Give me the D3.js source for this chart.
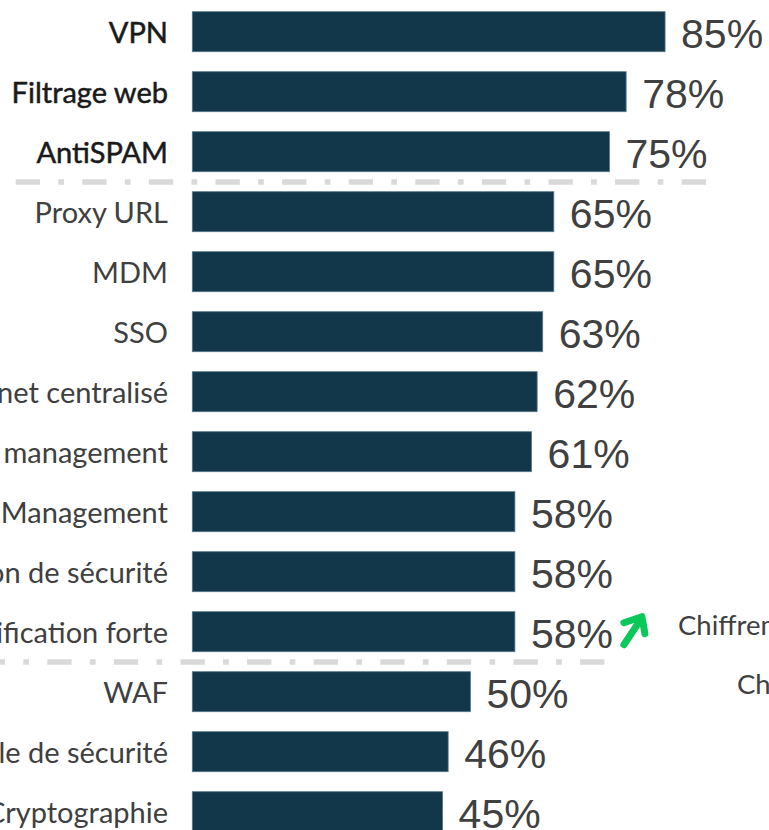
<!DOCTYPE html>
<html>
<head>
<meta charset="utf-8">
<script src="https://cdn.jsdelivr.net/npm/d3@7"></script>
<style>
  html, body { margin: 0; padding: 0; background: #ffffff; overflow: hidden; }
  svg { display: block; }
</style>
</head>
<body>
<div id="painting"></div>
<script>
// categories and values (top to bottom)
var categories = [
  "VPN", "Filtrage web", "AntiSPAM", "Proxy URL", "MDM", "SSO",
  "Antivirus Internet centralisé", "Patch management", "Identity Management",
  "Supervision de sécurité", "Authentification forte", "WAF",
  "Console de sécurité", "Cryptographie"
];
var values = [85, 78, 75, 65, 65, 63, 62, 61, 58, 58, 58, 50, 46, 45];
var highlighted = ["VPN", "Filtrage web", "AntiSPAM"];
// separators sit after these categories
var separators_after = ["AntiSPAM", "Authentification forte"];
var side_labels = ["Chiffrement", "Chiffrement"];

var w = 769, h = 830;
var bar_colour = "#12374b";

var svg = d3.select("#painting")
  .append("svg")
  .attr("width", w)
  .attr("height", h);

var xScale = d3.scaleLinear()
  .domain([0, 100])
  .range([192.3, 748.5]);

var yScale = d3.scaleBand()
  .domain(categories)
  .range([1.7, 841.7])
  .paddingInner(1 / 3)
  .paddingOuter(1 / 6);

// dashed separators
var sep_extent = [[15.7, 707], [-19.3, 605]];
svg.append("g")
  .attr("class", "lines")
  .selectAll("line")
  .data(separators_after)
  .enter()
  .append("line")
  .attr("x1", function(d, i) { return sep_extent[i][0]; })
  .attr("x2", function(d, i) { return sep_extent[i][1]; })
  .attr("y1", function(d) { return yScale(d) + yScale.bandwidth() + yScale.step() / 6 + 0.3; })
  .attr("y2", function(d) { return yScale(d) + yScale.bandwidth() + yScale.step() / 6 + 0.3; })
  .attr("stroke", "#d9d9d9")
  .attr("stroke-width", 5.5)
  .attr("stroke-dasharray", "24.3,18.3,5.7,18.3");

// bars
svg.append("g")
  .selectAll("rect")
  .data(categories)
  .enter()
  .append("rect")
  .attr("x", xScale(0))
  .attr("y", function(d) { return yScale(d); })
  .attr("width", function(d, i) { return xScale(values[i]) - xScale(0); })
  .attr("height", yScale.bandwidth())
  .attr("fill", bar_colour)
  .attr("stroke", "#56788a")
  .attr("stroke-width", 0.8);

// category labels
svg.append("g")
  .selectAll("text")
  .data(categories)
  .enter()
  .append("text")
  .attr("x", 168)
  .attr("y", function(d) {
    var hi = highlighted.indexOf(d) >= 0;
    return yScale(d) + yScale.bandwidth() / 2 + (hi ? 11.5 : 11);
  })
  .attr("text-anchor", "end")
  .attr("font-family", "Lato, sans-serif")
  .attr("font-size", function(d) { return highlighted.indexOf(d) >= 0 ? "29px" : "29px"; })
  .attr("fill", function(d) { return highlighted.indexOf(d) >= 0 ? "#1a1a1a" : "#404040"; })
  .attr("stroke", function(d) { return highlighted.indexOf(d) >= 0 ? "#1a1a1a" : "none"; })
  .attr("stroke-width", 0.5)
  .text(function(d) { return d; });

// value labels
svg.append("g")
  .selectAll("text")
  .data(categories)
  .enter()
  .append("text")
  .attr("x", function(d, i) { return xScale(values[i]) + 16; })
  .attr("y", function(d) { return yScale(d) + yScale.bandwidth() / 2 + 16.5; })
  .attr("font-family", "'Liberation Sans', Arial, sans-serif")
  .attr("font-size", "41px")
  .attr("fill", "#404040")
  .text(function(d, i) { return values[i] + "%"; });

// green arrow next to "Authentification forte"
var arrow_cat = "Authentification forte";
var ax = xScale(values[categories.indexOf(arrow_cat)]) + 108;
var ay = yScale(arrow_cat) + yScale.bandwidth() / 2;
svg.append("path")
  .attr("d", "M" + (ax + 1) + "," + (ay + 13) + " L" + (ax + 17) + "," + (ay - 11) +
             " M" + (ax + 1) + "," + (ay - 9) + " L" + (ax + 19) + "," + (ay - 15) +
             " L" + (ax + 22) + "," + (ay + 2))
  .attr("fill", "none")
  .attr("stroke", "#0ac85a")
  .attr("stroke-width", 7)
  .attr("stroke-linecap", "round")
  .attr("stroke-linejoin", "round");

// side labels from the neighbouring panel
svg.append("g")
  .selectAll("text")
  .data(side_labels)
  .enter()
  .append("text")
  .attr("x", function(d, i) { return i === 0 ? 678 : 737; })
  .attr("y", function(d, i) { return i === 0 ? 635 : 694; })
  .attr("font-family", "Lato, sans-serif")
  .attr("font-size", "27.5px")
  .attr("fill", "#404040")
  .text(function(d) { return d; });
</script>
</body>
</html>
